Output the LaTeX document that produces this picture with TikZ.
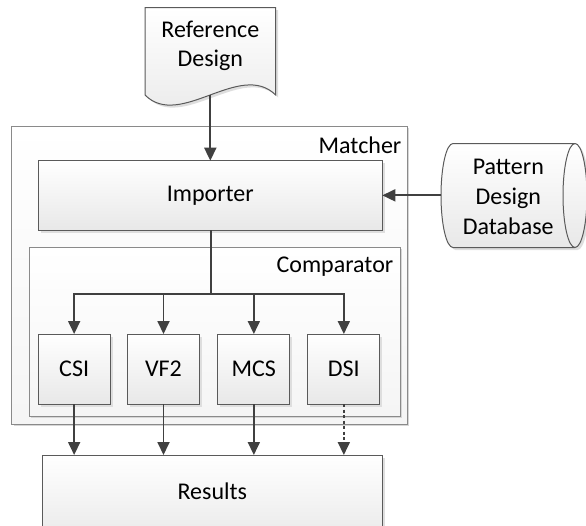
\documentclass[tikz,border=0pt]{standalone}
\usepackage{fontspec}
\setmainfont{Carlito}
\usetikzlibrary{arrows.meta,shadows}
\definecolor{edgec}{HTML}{5A5A5A}
\definecolor{framec}{HTML}{8A8A8A}
\definecolor{arrowc}{HTML}{404040}
\tikzset{
  txt/.style={font=\fontsize{24}{28.5}\selectfont, align=center, inner sep=0pt},
  box/.style={draw=edgec, line width=1pt, top color=white, bottom color=black!9,
    inner sep=0pt, outer sep=0pt,
    drop shadow={shadow xshift=2.5pt, shadow yshift=-2.5pt, fill=black!13, opacity=1},
    font=\fontsize{24}{28.5}\selectfont},
  frame/.style={draw=framec, line width=1pt, top color=white, bottom color=black!4,
    inner sep=0pt, outer sep=0pt,
    drop shadow={shadow xshift=2pt, shadow yshift=-2pt, fill=black!16, opacity=1}},
  shapefill/.style={draw=edgec, line width=1pt, top color=white, bottom color=black!9,
    drop shadow={shadow xshift=2.5pt, shadow yshift=-2.5pt, fill=black!13, opacity=1}},
  arr/.style={draw=arrowc, line width=1.8pt, -{Triangle[width=12pt,length=13pt]}},
  wire/.style={draw=arrowc, line width=1.8pt},
}
\begin{document}
\begin{tikzpicture}[x=1pt,y=-1pt]
\useasboundingbox (0,0) rectangle (586,525);
\clip (0,0) rectangle (586,525);

% Reference Design document shape
\path[shapefill] (145,7.7) -- (275.7,7.7) -- (275.7,95)
  .. controls (240,60) and (180,130) .. (145,95) -- cycle;
\node[txt] (doc) at (210.3,46) {Reference\\Design};
\coordinate (docbot) at (210.3,95);

% Pattern Design Database cylinder
\path[shapefill] (453,143.5) -- (575,143.5)
  arc[start angle=90, end angle=-90, x radius=12pt, y radius=52pt]
  -- (453,247.5)
  arc[start angle=-90, end angle=-270, x radius=12pt, y radius=52pt] -- cycle;
\draw[draw=edgec, line width=1pt] (575,143.5)
  arc[start angle=90, end angle=270, x radius=12pt, y radius=52pt];
\node[txt, font=\fontsize{24}{30}\selectfont] (db) at (508.3,196.5) {Pattern\\Design\\Database};
\coordinate (dbleft) at (441,195.35);

% Matcher frame
\node[frame, minimum width=395.3pt, minimum height=298.3pt] (matcher) at (209.35,275.15) {};
\node[txt, anchor=east] (matcherlbl) at (401.5,145) {Matcher};

% Importer
\node[box, minimum width=344pt, minimum height=69.3pt] (importer) at (210.3,195.35) {Importer};

% Comparator frame
\node[frame, minimum width=371pt, minimum height=168.7pt] (comparator) at (214.5,331.65) {};
\node[txt, anchor=east] (complbl) at (393.5,266.7) {Comparator};

% Algorithms
\node[box, minimum width=72pt, minimum height=70pt] (csi) at (74.15,369) {CSI};
\node[box, minimum width=72pt, minimum height=70pt] (vf2) at (163.5,369) {VF2};
\node[box, minimum width=72pt, minimum height=70pt] (mcs) at (253.85,369) {MCS};
\node[box, minimum width=72pt, minimum height=70pt] (dsi) at (343.85,369) {DSI};

% Results
\node[box, minimum width=340pt, minimum height=90pt] (results) at (212.3,500) {};
\node[txt] (restxt) at (212.3,491.5) {Results};

% Connectors
\draw[arr] (docbot) -- (docbot |- importer.north);
\draw[arr] (dbleft) -- (importer.east);
\coordinate (bus) at (211,294);
\draw[wire] (importer.south -| bus) -- (bus);
\draw[arr] (bus) -| (csi.north);
\draw[arr] (bus) -| (vf2.north);
\draw[arr] (bus) -| (mcs.north);
\draw[arr] (bus) -| (dsi.north);
\draw[arr] (csi.south) -- (csi.south |- results.north);
\draw[arr] (vf2.south) -- (vf2.south |- results.north);
\draw[arr] (mcs.south) -- (mcs.south |- results.north);
\draw[arr, dash pattern=on 3pt off 2.5pt] (dsi.south) -- (dsi.south |- results.north);
\end{tikzpicture}
\end{document}
